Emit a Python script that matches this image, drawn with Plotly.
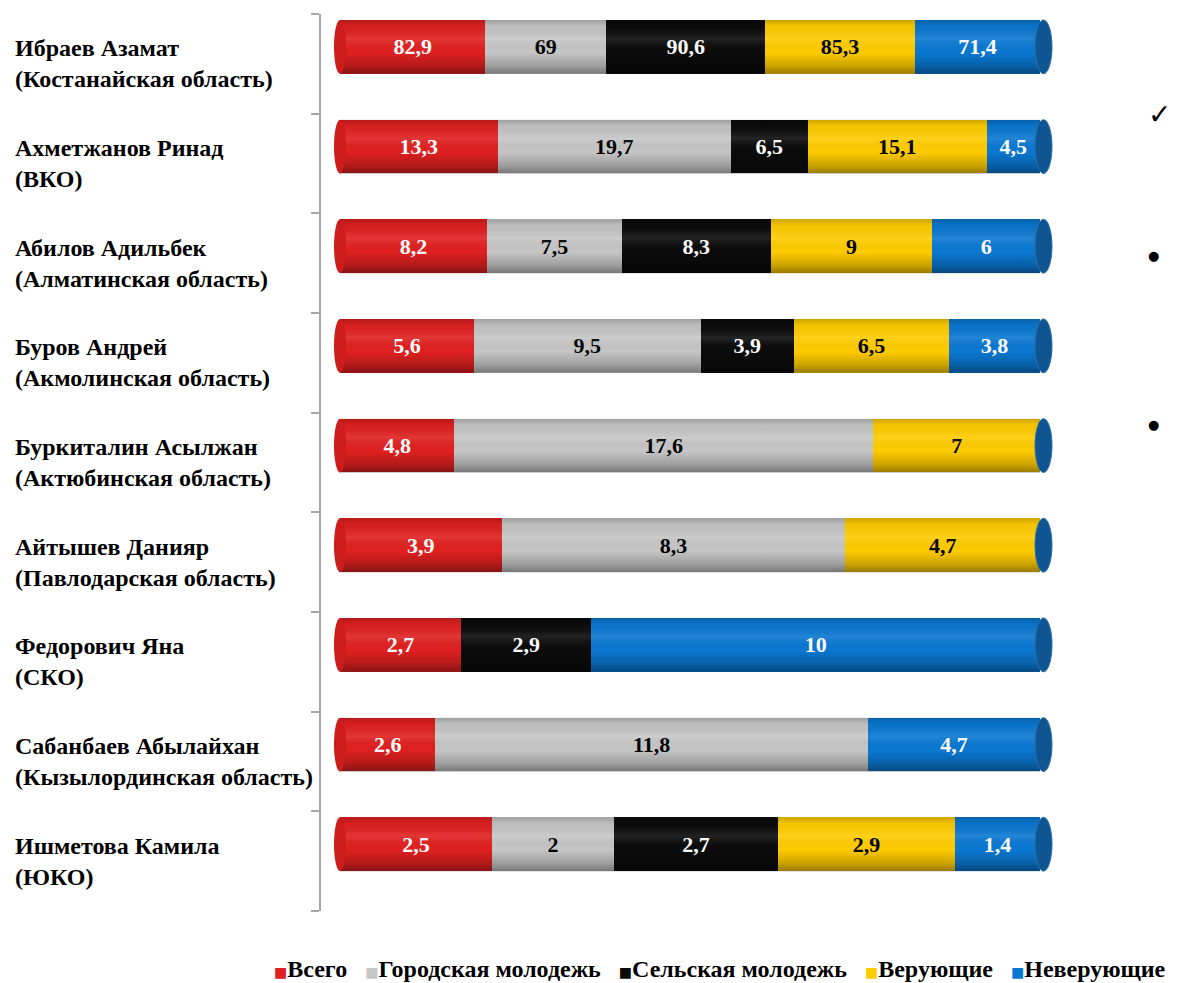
import plotly.graph_objects as go

# ---- data ----
candidates = [
    "Ибраев Азамат<br>(Костанайская область)",
    "Ахметжанов Ринад<br>(ВКО)",
    "Абилов Адильбек<br>(Алматинская область)",
    "Буров Андрей<br>(Акмолинская область)",
    "Буркиталин Асылжан<br>(Актюбинская область)",
    "Айтышев Данияр<br>(Павлодарская область)",
    "Федорович Яна<br>(СКО)",
    "Сабанбаев Абылайхан<br>(Кызылординская область)",
    "Ишметова Камила<br>(ЮКО)",
]
series_names = ["Всего", "Городская молодежь", "Сельская молодежь", "Верующие", "Неверующие"]

vsego = [82.9, 13.3, 8.2, 5.6, 4.8, 3.9, 2.7, 2.6, 2.5]
gorod = [69, 19.7, 7.5, 9.5, 17.6, 8.3, None, 11.8, 2]
selo = [90.6, 6.5, 8.3, 3.9, None, None, 2.9, None, 2.7]
veruyushchie = [85.3, 15.1, 9, 6.5, 7, 4.7, None, None, 2.9]
neveruyushchie = [71.4, 4.5, 6, 3.8, None, None, 10, 4.7, 1.4]

series_values = [vsego, gorod, selo, veruyushchie, neveruyushchie]

# ---- styling ----
fill_colors = ["#E02020", "#C6C6C6", "#0B0B0B", "#FFCC00", "#0A78D2"]
text_colors = ["white", "black", "white", "black", "white"]
cap_color = "#0E5592"
serif = "Liberation Serif, Times New Roman, serif"

W, H = 1178, 983
plot_left, plot_right = 321, 1060       # pixel extent of plotting area
plot_top, plot_bottom = 14, 911
zero_px, full_px = 340, 1040            # pixel positions of 0 % and 100 %
px_per_unit = (full_px - zero_px) / 100.0
x_min = -(zero_px - plot_left) / px_per_unit
x_max = 100 + (plot_right - full_px) / px_per_unit

bar_offset = -0.44   # bars sit slightly above the category centre
bar_width = 0.54

n = len(candidates)
ypos = list(range(n))

# totals per row for 100 % stacking
totals = []
for i in range(n):
    totals.append(sum((s[i] or 0) for s in series_values))


def fmt(v):
    return f"{v:g}".replace(".", ",")


fig = go.Figure()

for name, vals, col, tcol in zip(series_names, series_values, fill_colors, text_colors):
    share = [(v / totals[i] * 100) if v else None for i, v in enumerate(vals)]
    labels = [fmt(v) if v else "" for v in vals]
    fig.add_trace(go.Bar(
        name=name,
        y=ypos,
        x=share,
        orientation="h",
        width=bar_width,
        offset=bar_offset,
        marker=dict(color=col, line=dict(width=0)),
        text=labels,
        textposition="inside",
        insidetextanchor="middle",
        textangle=0,
        textfont=dict(family=serif, size=22, color=tcol, weight="bold"),
        hoverinfo="skip",
        showlegend=False,
    ))

# cylinder shading over every row
for i in ypos:
    y0 = i + bar_offset
    y1 = y0 + bar_width
    fig.add_trace(go.Scatter(
        x=[0, 100, 100, 0, 0],
        y=[y0, y0, y1, y1, y0],
        mode="lines",
        line=dict(width=0),
        fill="toself",
        fillcolor="rgba(0,0,0,0)",
        fillgradient=dict(
            type="vertical",
            start=y0,
            stop=y1,
            colorscale=[
                [0.0, "rgba(0,0,0,0.20)"],
                [0.12, "rgba(0,0,0,0.04)"],
                [0.35, "rgba(255,255,255,0.10)"],
                [0.6, "rgba(0,0,0,0.0)"],
                [0.85, "rgba(0,0,0,0.20)"],
                [1.0, "rgba(0,0,0,0.40)"],
            ],
        ),
        showlegend=False,
        hoverinfo="skip",
    ))

shapes = []
for i in ypos:
    y0 = i + bar_offset
    y1 = y0 + bar_width
    # rounded left end
    shapes.append(dict(type="circle", xref="x", yref="y", xsizemode="pixel", xanchor=0,
                       x0=-6, x1=6, y0=y0, y1=y1, fillcolor="#CC1C1C",
                       line=dict(width=0), layer="above"))
    # visible end face on the right
    shapes.append(dict(type="circle", xref="x", yref="y", xsizemode="pixel", xanchor=100,
                       x0=-5, x1=12, y0=y0, y1=y1, fillcolor=cap_color,
                       line=dict(width=1, color="#2A6FAE"), layer="above"))

annotations = []
for i, lab in enumerate(candidates):
    annotations.append(dict(
        x=(13 - plot_left) / (plot_right - plot_left), xref="paper",
        y=i, yref="y",
        text=lab, showarrow=False, xanchor="left", yanchor="middle", align="left",
        font=dict(family=serif, size=24, color="black", weight="bold"),
    ))

# marks in the right margin
for sym, px, py, size in [("✓", 1159, 114, 28), ("●", 1153, 255, 13), ("●", 1153, 425, 13)]:
    annotations.append(dict(
        x=(px - plot_left) / (plot_right - plot_left), xref="paper",
        y=1 - (py - plot_top) / (plot_bottom - plot_top), yref="paper",
        text=sym, showarrow=False, xanchor="center", yanchor="middle",
        font=dict(family="DejaVu Sans", size=size, color="black"),
    ))

# single-line legend: coloured squares followed by series names
legend_parts = []
for name, col in zip(series_names, fill_colors):
    legend_parts.append(
        f"<span style='color:{col};font-size:14px;font-family:DejaVu Sans'>■</span>{name}"
    )
annotations.append(dict(
    x=(1168 - plot_left) / (plot_right - plot_left), xref="paper",
    y=-(969 - plot_bottom) / (plot_bottom - plot_top), yref="paper",
    text="\u00a0\u00a0\u00a0".join(legend_parts), showarrow=False,
    xanchor="right", yanchor="middle",
    font=dict(family=serif, size=24, color="black", weight="bold"),
))

fig.update_layout(
    width=W, height=H,
    barmode="stack",
    paper_bgcolor="white",
    plot_bgcolor="white",
    margin=dict(l=plot_left, r=W - plot_right, t=plot_top, b=H - plot_bottom, pad=0,
                autoexpand=False),
    xaxis=dict(range=[x_min, x_max], visible=False, fixedrange=True),
    yaxis=dict(
        range=[n - 0.5, -0.5],
        tickvals=ypos, showticklabels=False, ticks="",
        showline=True, linecolor="#A6A6A6", linewidth=2,
        showgrid=False, zeroline=False,
        minor=dict(tickvals=[k - 0.5 for k in range(n + 1)], ticks="outside",
                   ticklen=8, tickcolor="#A6A6A6", tickwidth=2, showgrid=False),
    ),
    shapes=shapes,
    annotations=annotations,
    showlegend=False,
)

fig.write_html("out.html")
